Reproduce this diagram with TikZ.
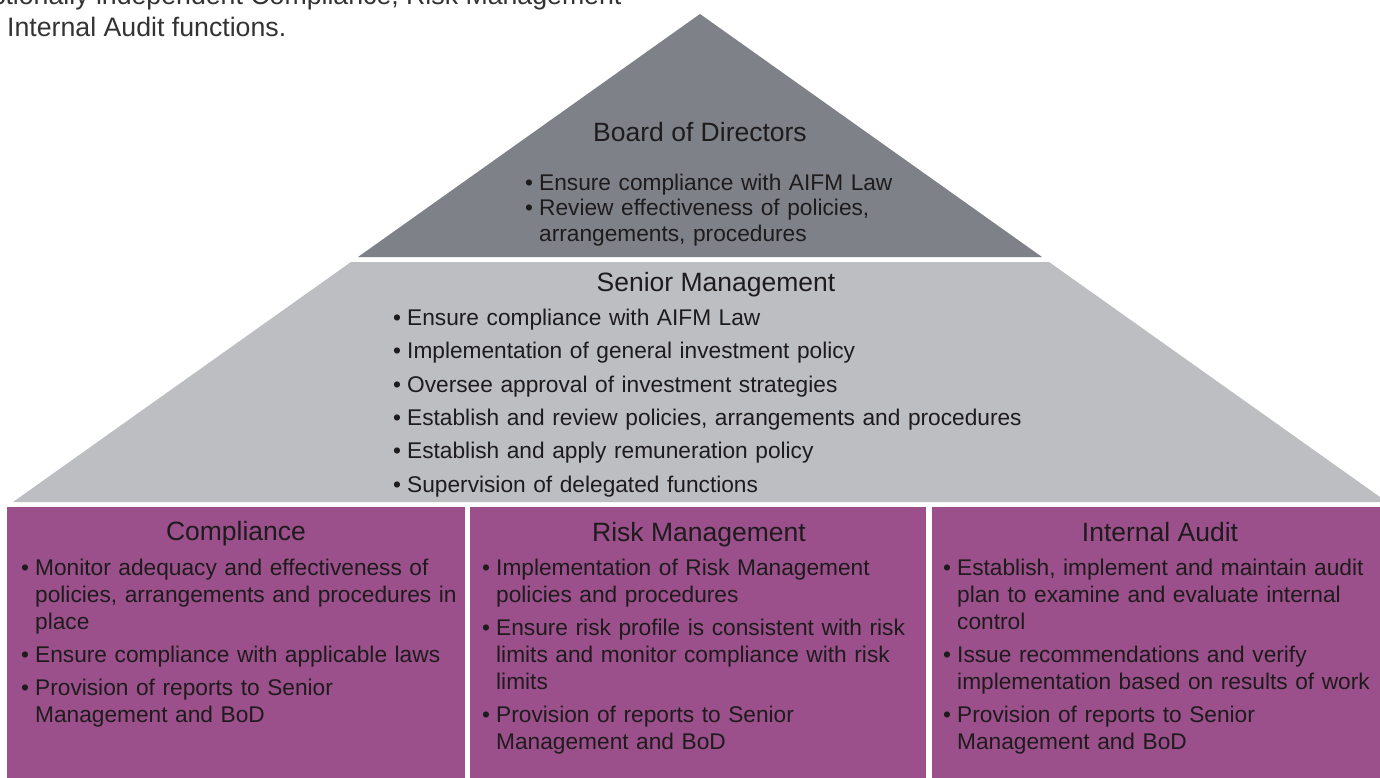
\documentclass[tikz,border=0pt]{standalone}
\usepackage{fontspec}
\setmainfont{Liberation Sans}
\usepackage{tikz}
\definecolor{ink}{HTML}{1E1B1D}
\definecolor{graphite}{HTML}{333333}
\definecolor{slate}{HTML}{7F8189}
\definecolor{mist}{HTML}{BCBEC2}
\definecolor{plum}{HTML}{9B508B}
\newlength{\bulw}
\setlength{\bulw}{14pt}
\newcommand{\bul}[1]{\noindent\hangindent=\bulw\hangafter=1\makebox[\bulw][l]{\textbullet}#1\par}
\tikzset{
  roof/.style={fill=slate},
  floor/.style={fill=mist},
  pillar/.style={fill=plum},
  note/.style={text=graphite, inner sep=0pt, anchor=base west, font=\fontsize{26.7}{32}\selectfont},
  ttl/.style={text=ink, inner sep=0pt, anchor=base, font=\fontsize{26.5}{30}\selectfont},
  lst/.style={text=ink, inner sep=0pt, anchor=base west, align=left, text width=#1},
  bodtxt/.style={font=\fontsize{22.7}{25.5}\selectfont, execute at begin node={\setlength{\parskip}{0pt}}},
  smtxt/.style={font=\fontsize{22.7}{33.3}\selectfont, execute at begin node={\setlength{\parskip}{0pt}}},
  boxtxt/.style={font=\fontsize{22.7}{27.2}\selectfont, execute at begin node={\setlength{\parskip}{5.5pt}}},
}
\begin{document}
\begin{tikzpicture}[x=1pt,y=-1pt]
  \useasboundingbox (0,0) rectangle (1380,778);
  \clip (0,0) rectangle (1380,778);
  \fill[white] (0,0) rectangle (1380,778);
  % house shape
  \coordinate (apex) at (700,14);
  \coordinate (bl) at (358,257);
  \coordinate (br) at (1042,257);
  \coordinate (sl) at (351,262);
  \coordinate (sr) at (1049,262);
  \coordinate (fl) at (13,502);
  \coordinate (fr) at (1387,502);
  \fill[roof] (apex) -- (br) -- (bl) -- cycle;
  \fill[floor] (sl) -- (sr) -- (fr) -- (fl) -- cycle;
  \fill[pillar] (7,507) rectangle (465,790);
  \fill[pillar] (470,507) rectangle (926,790);
  \fill[pillar] (932,507) rectangle (1392,790);
  % lead-in text, cut at the page edge
  \node[note] (intro1) at (-8,5) {ctionally independent Compliance, Risk Management};
  \node[note] (intro2) at (7,37) {Internal Audit functions.};
  % roof
  \node[ttl] (bod) at (700,142) {Board of Directors};
  \node[lst=400pt,bodtxt] (bodlist) at (525,190) {%
    \bul{Ensure compliance with AIFM Law}%
    \bul{Review effectiveness of policies,\newline arrangements, procedures}};
  % floor
  \node[ttl] (sm) at (716,291.5) {Senior Management};
  \node[lst=660pt,smtxt] (smlist) at (393,325.5) {%
    \bul{Ensure compliance with AIFM Law}%
    \bul{Implementation of general investment policy}%
    \bul{Oversee approval of investment strategies}%
    \bul{Establish and review policies, arrangements and procedures}%
    \bul{Establish and apply remuneration policy}%
    \bul{Supervision of delegated functions}};
  % pillars
  \node[ttl] (comp) at (236,540.5) {Compliance};
  \node[lst=440pt,boxtxt] (complist) at (21,575.5) {%
    \bul{Monitor adequacy and effectiveness of\newline policies, arrangements and procedures in\newline place}%
    \bul{Ensure compliance with applicable laws}%
    \bul{Provision of reports to Senior\newline Management and BoD}};
  \node[ttl] (risk) at (699,541) {Risk Management};
  \node[lst=440pt,boxtxt] (risklist) at (482,575.5) {%
    \bul{Implementation of Risk Management\newline policies and procedures}%
    \bul{Ensure risk profile is consistent with risk\newline limits and monitor compliance with risk\newline limits}%
    \bul{Provision of reports to Senior\newline Management and BoD}};
  \node[ttl] (audit) at (1160,541) {Internal Audit};
  \node[lst=440pt,boxtxt] (auditlist) at (943,575.5) {%
    \bul{Establish, implement and maintain audit\newline plan to examine and evaluate internal\newline control}%
    \bul{Issue recommendations and verify\newline implementation based on results of work}%
    \bul{Provision of reports to Senior\newline Management and BoD}};
\end{tikzpicture}
\end{document}
